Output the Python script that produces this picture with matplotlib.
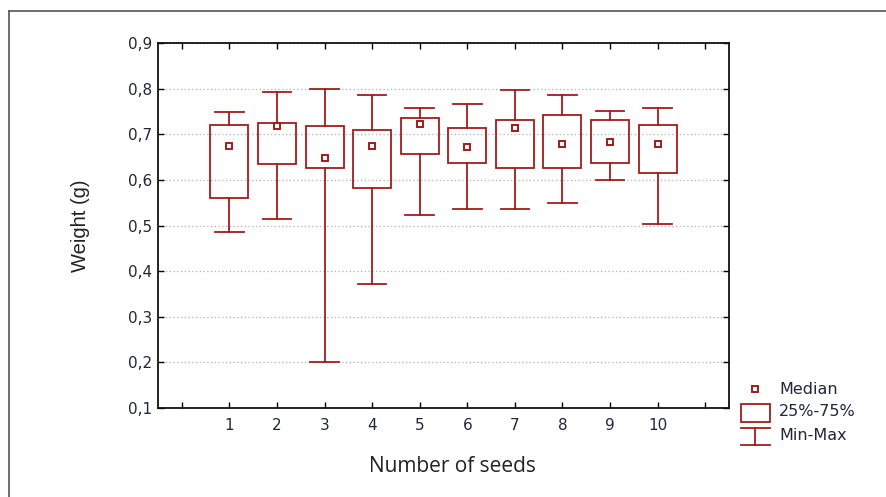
import numpy as np
import matplotlib
matplotlib.use('Agg')
import matplotlib.pyplot as plt
from matplotlib.lines import Line2D
from matplotlib.patches import Rectangle

# Data
seeds = [1, 2, 3, 4, 5, 6, 7, 8, 9, 10]
w_min = [0.486, 0.515, 0.200, 0.371, 0.523, 0.537, 0.537, 0.549, 0.600, 0.503]
w_q1 = [0.560, 0.635, 0.627, 0.582, 0.657, 0.638, 0.627, 0.627, 0.638, 0.615]
w_med = [0.674, 0.719, 0.649, 0.674, 0.722, 0.671, 0.714, 0.678, 0.682, 0.678]
w_q3 = [0.721, 0.725, 0.717, 0.710, 0.736, 0.713, 0.732, 0.743, 0.732, 0.720]
w_max = [0.748, 0.792, 0.800, 0.785, 0.757, 0.766, 0.796, 0.785, 0.751, 0.757]
y_ticks = [0.1, 0.2, 0.3, 0.4, 0.5, 0.6, 0.7, 0.8, 0.9]
legend_labels = ['Median', '25%-75%', 'Min-Max']

RED = '#a01c1c'
TXT = '#22263a'
W, H = 886, 497

fig = plt.figure(figsize=(W / 100, H / 100), dpi=100)
ax = fig.add_axes([158 / W, 1 - 408 / H, (729 - 158) / W, (408 - 43) / H])

box_w = 0.8
cap_w = 0.6
for x, lo, q1, md, q3, hi in zip(seeds, w_min, w_q1, w_med, w_q3, w_max):
    ax.add_patch(Rectangle((x - box_w / 2, q1), box_w, q3 - q1, fill=False,
                           edgecolor=RED, lw=1.3, zorder=3))
    ax.plot([x, x], [hi, q3], color=RED, lw=1.3, zorder=3)
    ax.plot([x, x], [q1, lo], color=RED, lw=1.3, zorder=3)
    ax.plot([x - cap_w / 2, x + cap_w / 2], [hi, hi], color=RED, lw=1.3, zorder=3)
    ax.plot([x - cap_w / 2, x + cap_w / 2], [lo, lo], color=RED, lw=1.3, zorder=3)
    ax.plot([x], [md], marker='s', ms=4.5, mfc='white', mec=RED, mew=1.4,
            zorder=4, ls='none')

ax.set_xlim(-0.5, 11.5)
ax.set_ylim(0.1, 0.9)
ax.set_xticks(range(0, 12))
ax.set_xticklabels([''] + [str(s) for s in seeds] + [''])
ax.set_yticks(y_ticks)
ax.set_yticklabels([f'{v:.1f}'.replace('.', ',') for v in y_ticks])
ax.tick_params(direction='in', length=4, width=1, top=True, right=True,
               labelsize=11, labelcolor=TXT)
ax.tick_params(axis='y', pad=4)
ax.tick_params(axis='x', pad=7)
for sp in ax.spines.values():
    sp.set_linewidth(1.3)
    sp.set_color('#111111')
ax.yaxis.grid(True, ls=(0, (1, 2)), color='#b0b0b0', lw=0.9)
ax.set_axisbelow(True)

ax.set_ylabel('Weight (g)', family='Liberation Sans', fontsize=14.5, color='#222222')
ax.set_xlabel('Number of seeds', family='Open Sans', fontsize=15, color='#222222')
ax.yaxis.set_label_coords(-(158 - 81) / 571, 0.5)
ax.xaxis.set_label_coords((452 - 158) / 571, -(467 - 408) / 365)
ax.xaxis.label.set_va('center')
ax.yaxis.label.set_va('center')

# legend drawn in figure pixels
def fx(px):
    return px / W

def fy(py):
    return 1 - py / H

fig.add_artist(Line2D([fx(755)], [fy(389)], marker='s', ms=4.5, mfc='white',
                      mec=RED, mew=1.4, ls='none'))
fig.add_artist(Rectangle((fx(741), fy(422)), fx(770) - fx(741), fy(404) - fy(422),
                         fill=False, edgecolor=RED, lw=1.3, transform=fig.transFigure))
fig.add_artist(Line2D([fx(741), fx(770)], [fy(428), fy(428)], color=RED, lw=1.3))
fig.add_artist(Line2D([fx(755), fx(755)], [fy(428), fy(445)], color=RED, lw=1.3))
fig.add_artist(Line2D([fx(741), fx(770)], [fy(445), fy(445)], color=RED, lw=1.3))
for lab, py in zip(legend_labels, [389, 412, 435]):
    fig.text(fx(779), fy(py), lab, fontsize=11.5, color=TXT, va='center', ha='left')

# outer frame (left and top edges)
fig.add_artist(Line2D([fx(8.5), fx(8.5)], [fy(10.5), 0], color='#555555', lw=1.2))
fig.add_artist(Line2D([fx(8.5), 1], [fy(10.5), fy(10.5)], color='#555555', lw=1.2))

fig.savefig('out.png', dpi=100)
